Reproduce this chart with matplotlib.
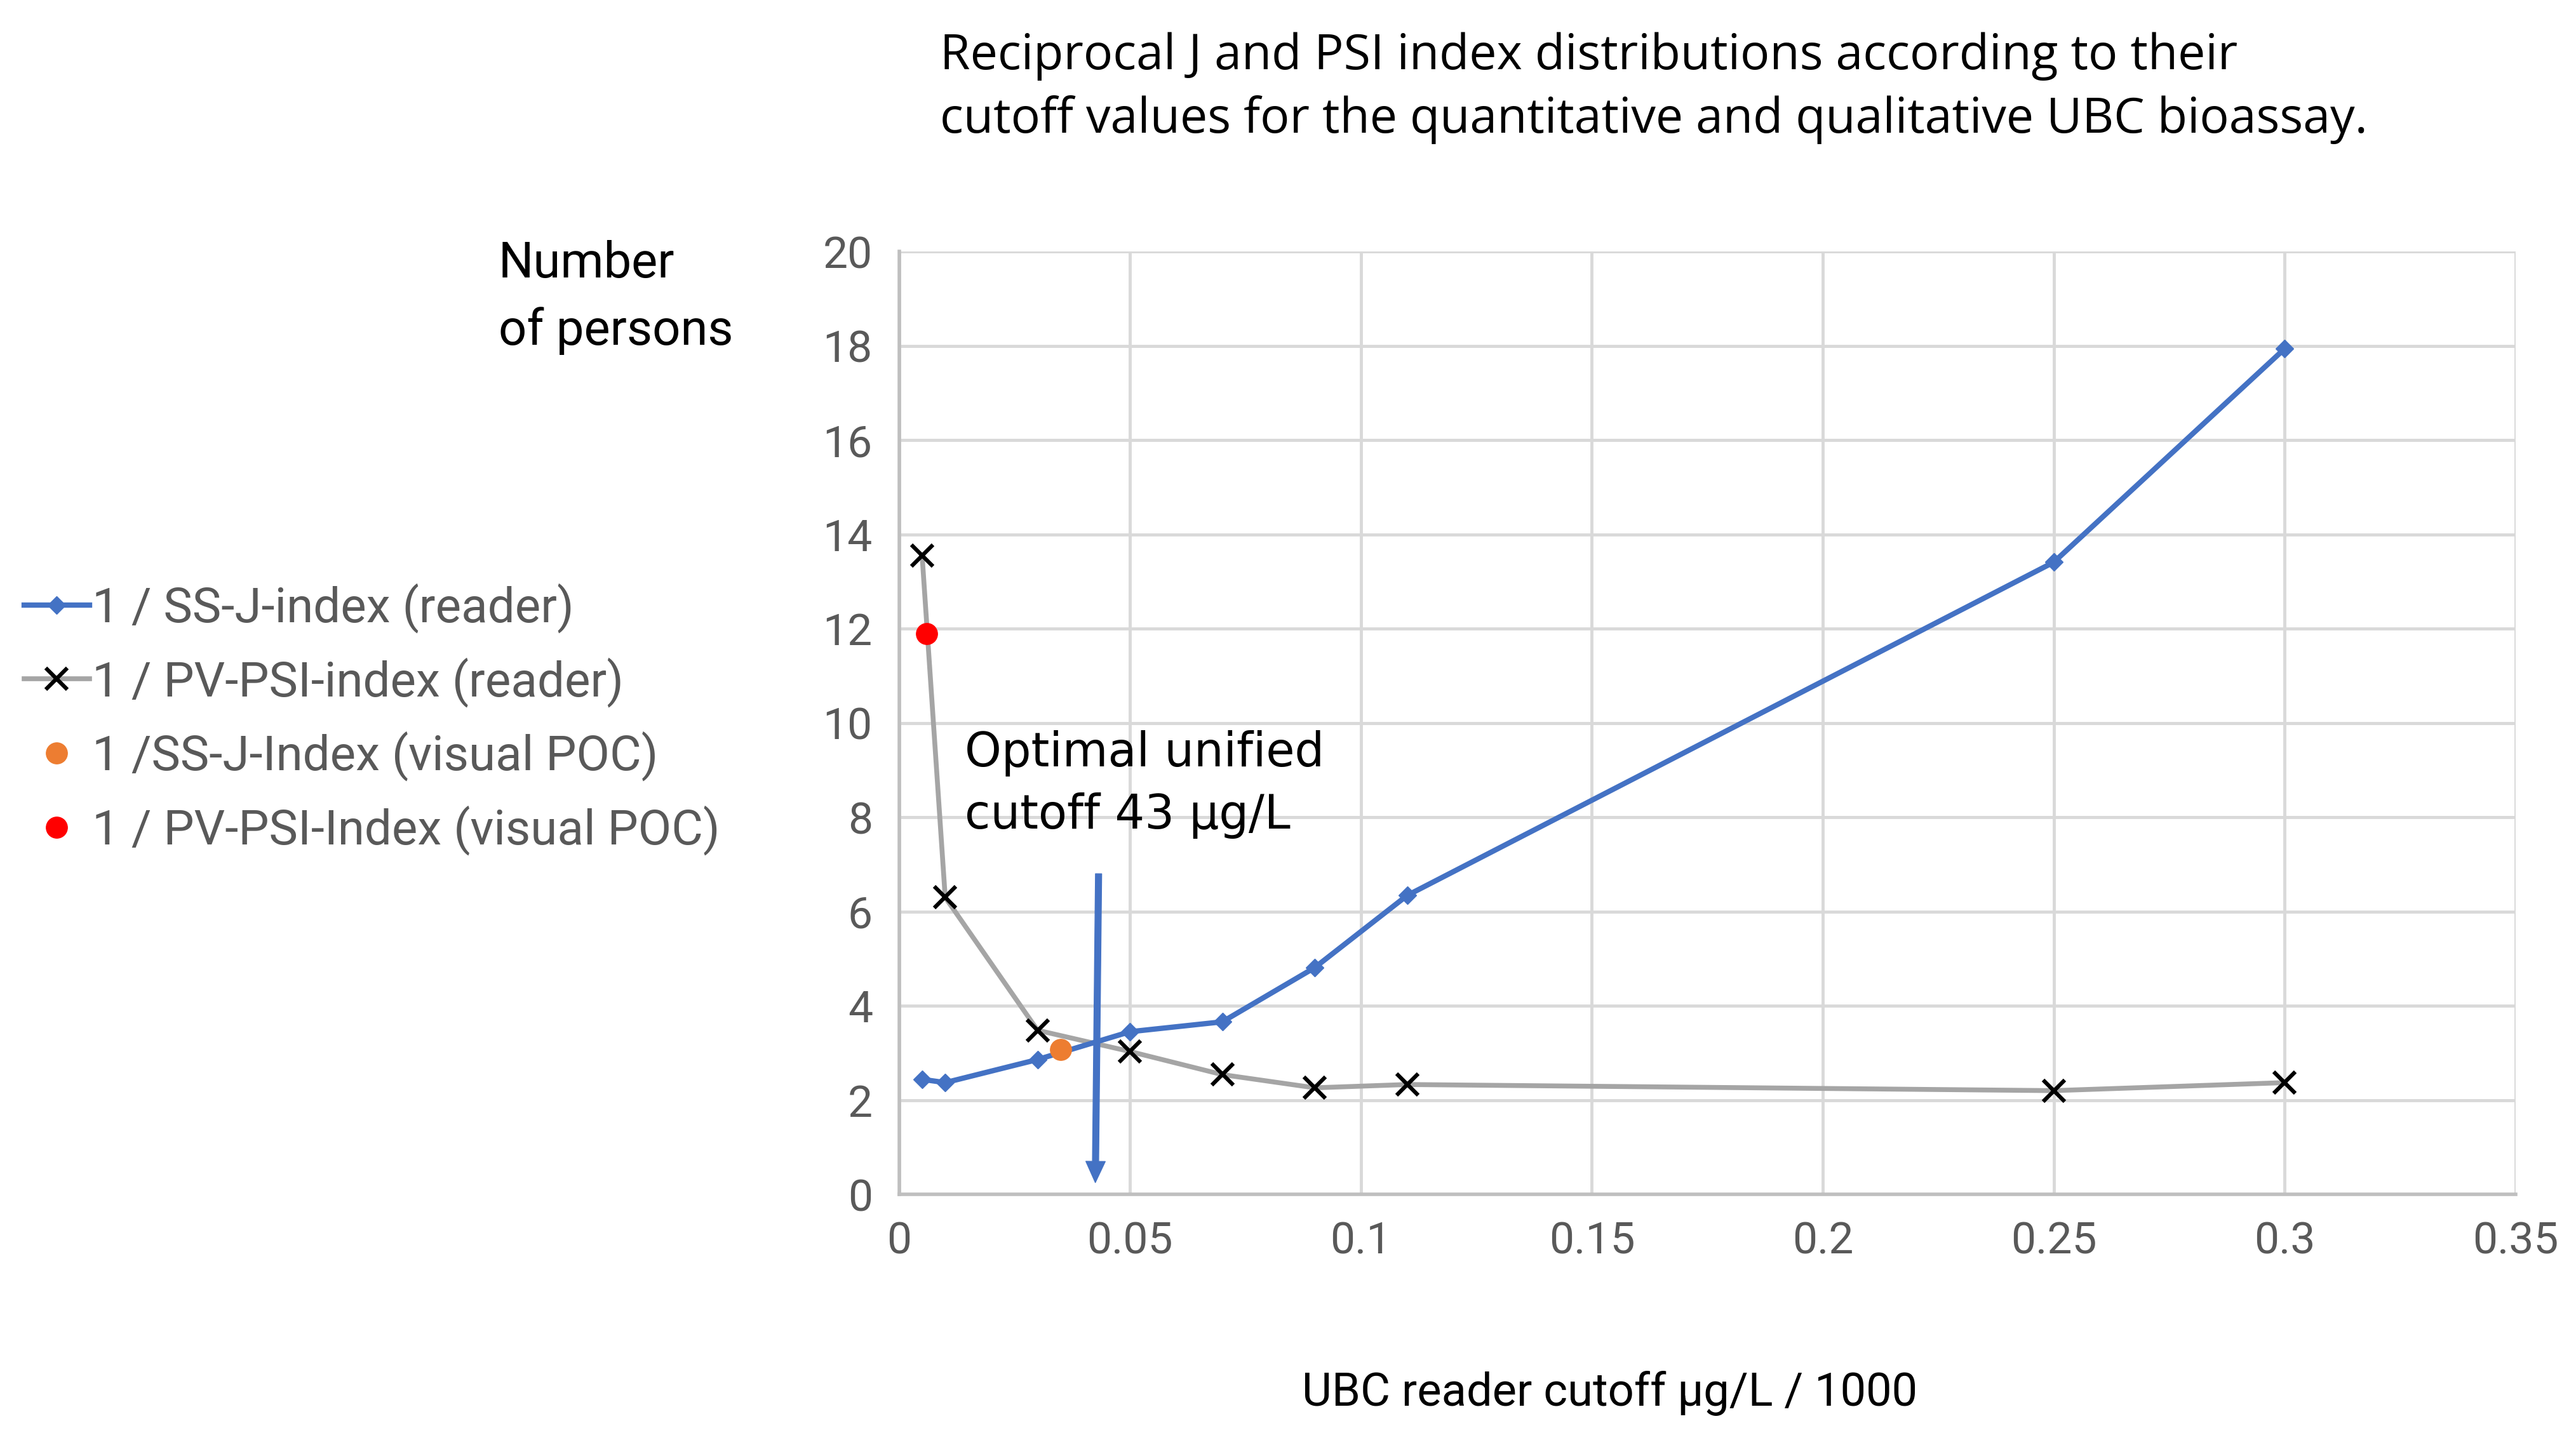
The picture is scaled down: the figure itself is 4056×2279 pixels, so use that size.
import matplotlib
matplotlib.use('Agg')
import matplotlib.pyplot as plt

# cutoff (ug/L / 1000) and reciprocal index values
cutoff = [0.005, 0.01, 0.03, 0.05, 0.07, 0.09, 0.11, 0.25, 0.30]
ss_j = [2.44, 2.37, 2.86, 3.45, 3.66, 4.81, 6.34, 13.41, 17.94]
pv_psi = [13.55, 6.30, 3.48, 3.03, 2.54, 2.26, 2.33, 2.20, 2.37]

# single visual POC points
ss_j_poc_x, ss_j_poc_y = [0.035], [3.07]
pv_psi_poc_x, pv_psi_poc_y = [0.006], [11.9]

# optimal unified cutoff arrow
arrow_x = [0.0432, 0.0425]
arrow_y = [6.8, 0.25]

xticks = [0, 0.05, 0.1, 0.15, 0.2, 0.25, 0.3, 0.35]
xtick_labels = ['0', '0.05', '0.1', '0.15', '0.2', '0.25', '0.3', '0.35']
yticks = list(range(0, 21, 2))

narrow = ['Liberation Sans Narrow', 'Roboto', 'DejaVu Sans']
blue = '#4472C4'
gray = '#A5A5A5'
txt_gray = '#595959'

fig = plt.figure(figsize=(40.56, 22.79), dpi=100)
ax = fig.add_axes([0.349, 0.1746, 0.6276, 0.6516])

l1, = ax.plot(cutoff, ss_j, color=blue, lw=6, marker='D', ms=14, zorder=4)
l2, = ax.plot(cutoff, pv_psi, color=gray, lw=5.5, marker='x', ms=24,
              mec='black', mew=4.5, zorder=3)
p1, = ax.plot(ss_j_poc_x, ss_j_poc_y, 'o', color='#ED7D31', ms=24, ls='none', zorder=5)
p2, = ax.plot(pv_psi_poc_x, pv_psi_poc_y, 'o', color='#FF0000', ms=24, ls='none', zorder=5)

ax.annotate('', xy=(arrow_x[1], arrow_y[1]), xytext=(arrow_x[0], arrow_y[0]),
            arrowprops=dict(width=7, headwidth=22, headlength=24, color=blue,
                            shrink=0), zorder=6)
ax.text(0.0142, 9.85, 'Optimal unified\ncutoff 43 µg/L', fontsize=53,
        family=['DejaVu Sans'], color='black', va='top', ha='left',
        linespacing=1.45, zorder=7)

ax.set_xlim(0, 0.35)
ax.set_ylim(0, 20)
ax.set_xticks(xticks)
ax.set_xticklabels(xtick_labels)
ax.set_yticks(yticks)
ax.grid(True, color='#D9D9D9', lw=3.5, zorder=0)
ax.set_axisbelow(True)
for s in ['top', 'right']:
    ax.spines[s].set_visible(False)
for s in ['left', 'bottom']:
    ax.spines[s].set_color('#BFBFBF')
    ax.spines[s].set_linewidth(4)
ax.tick_params(length=0, labelsize=50, labelcolor=txt_gray, pad=30)
for lab in ax.get_xticklabels() + ax.get_yticklabels():
    lab.set_family(narrow)

fig.text(0.1935, 0.834, 'Number\nof persons', fontsize=56, family=narrow,
         color='black', ha='left', va='top', linespacing=1.5)
fig.text(0.365, 0.978, 'Reciprocal J and PSI index distributions according to their\n'
         'cutoff values for the quantitative and qualitative UBC bioassay.',
         fontsize=55.5, family=['Open Sans', 'DejaVu Sans'], color='black',
         ha='left', va='top', linespacing=1.4)
fig.text(0.625, 0.037, 'UBC reader cutoff µg/L / 1000', fontsize=52, family=narrow,
         color='black', ha='center', va='center')

leg = fig.legend([l1, l2, p1, p2],
                 ['1 / SS-J-index (reader)', '1 / PV-PSI-index (reader)',
                  '1 /SS-J-Index (visual POC)', '1 / PV-PSI-Index (visual POC)'],
                 loc='center left', bbox_to_anchor=(-0.002, 0.503), frameon=False,
                 prop={'family': narrow, 'size': 55}, labelspacing=0.5,
                 handlelength=1.35, handletextpad=0.05, borderaxespad=0.2)
for t in leg.get_texts():
    t.set_color(txt_gray)

fig.savefig('out.png', dpi=100)
